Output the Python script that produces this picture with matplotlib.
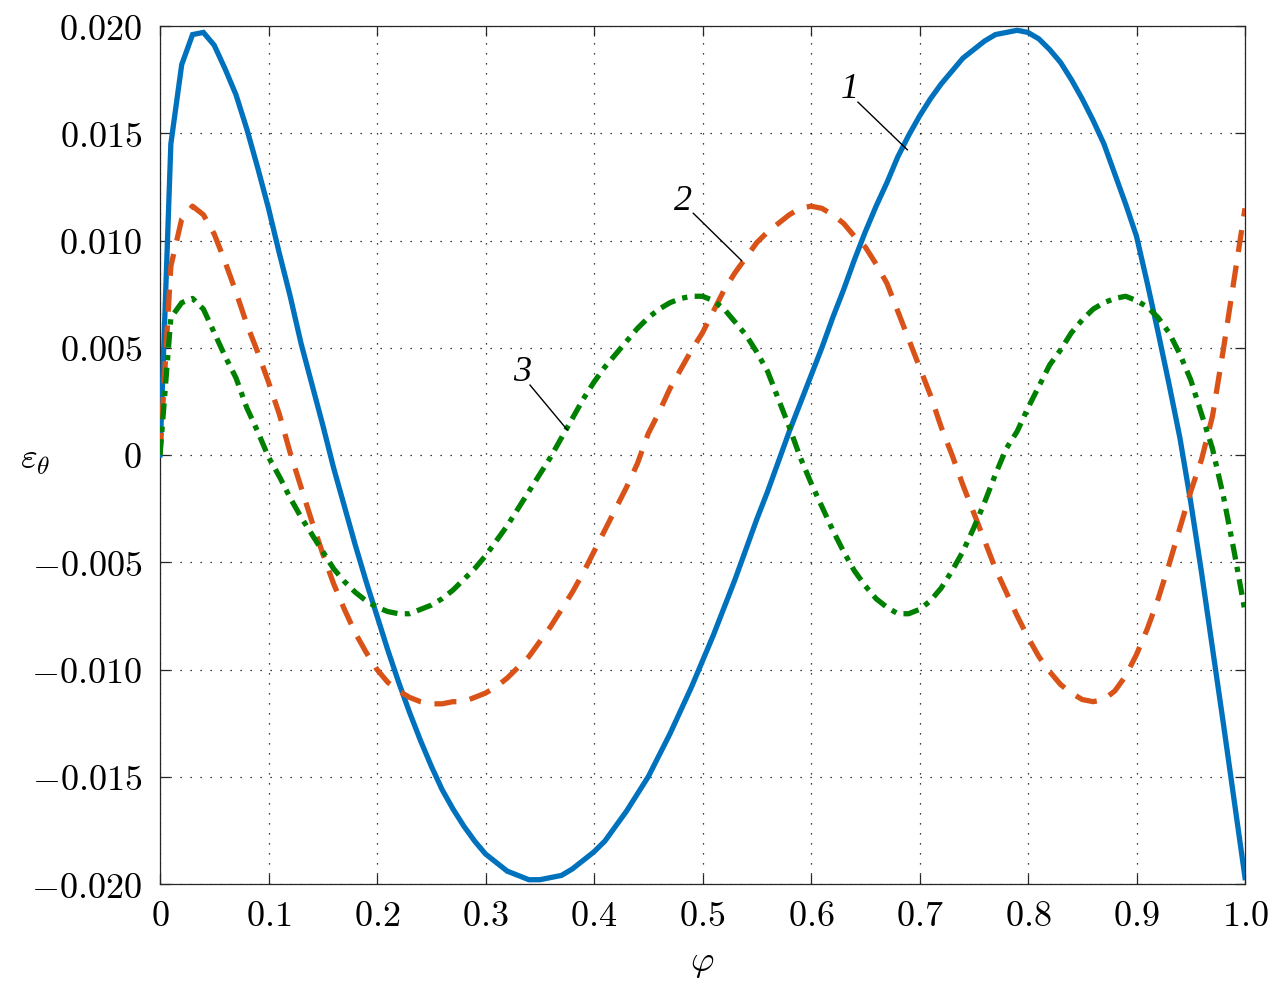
import matplotlib
matplotlib.use("Agg")
import matplotlib.pyplot as plt
import numpy as np

plt.rcParams['mathtext.fontset'] = 'cm'
plt.rcParams['font.family'] = ['DejaVu Serif']

phi = [i / 100 for i in range(101)]

curve1 = [
    0.0, 0.0145, 0.0182, 0.0196, 0.0197, 0.0191, 0.0180, 0.0168, 0.0152, 0.0134,
    0.0115, 0.0094, 0.0074, 0.0052, 0.0033, 0.0014, -0.0006, -0.0024, -0.0042, -0.0059,
    -0.0075, -0.0091, -0.0106, -0.0120, -0.0133, -0.0145, -0.0156, -0.0165, -0.0173, -0.0180,
    -0.0186, -0.0190, -0.0194, -0.0196, -0.0198, -0.0198, -0.0197, -0.0196, -0.0193, -0.0189,
    -0.0185, -0.0180, -0.0173, -0.0166, -0.0158, -0.0150, -0.0140, -0.0130, -0.0119, -0.0108,
    -0.0096, -0.0084, -0.0071, -0.0058, -0.0044, -0.0030, -0.0017, -0.0003, 0.0011, 0.0024,
    0.0037, 0.0050, 0.0064, 0.0077, 0.0091, 0.0104, 0.0116, 0.0127, 0.0139, 0.0149,
    0.0158, 0.0166, 0.0173, 0.0179, 0.0185, 0.0189, 0.0193, 0.0196, 0.0197, 0.0198,
    0.0197, 0.0194, 0.0189, 0.0183, 0.0175, 0.0166, 0.0156, 0.0145, 0.0131, 0.0117,
    0.0102, 0.0080, 0.0057, 0.0033, 0.0008, -0.0022, -0.0055, -0.0090, -0.0125, -0.0161,
    -0.0197,
]

curve2 = [
    0.0, 0.0088, 0.0110, 0.0116, 0.0112, 0.0103, 0.0090, 0.0076, 0.0061, 0.0048,
    0.0034, 0.0019, 0.0001, -0.0015, -0.0031, -0.0046, -0.0060, -0.0072, -0.0083, -0.0092,
    -0.0100, -0.0106, -0.0110, -0.0113, -0.0115, -0.0116, -0.0116, -0.0115, -0.0115, -0.0113,
    -0.0111, -0.0108, -0.0104, -0.0099, -0.0094, -0.0087, -0.0080, -0.0072, -0.0064, -0.0055,
    -0.0045, -0.0035, -0.0025, -0.0015, -0.0004, 0.0010, 0.0020, 0.0031, 0.0040, 0.0049,
    0.0057, 0.0067, 0.0077, 0.0085, 0.0092, 0.0099, 0.0104, 0.0108, 0.0112, 0.0115,
    0.0116, 0.0115, 0.0112, 0.0108, 0.0102, 0.0097, 0.0089, 0.0080, 0.0067, 0.0054,
    0.0041, 0.0028, 0.0013, 0.0000, -0.0014, -0.0027, -0.0040, -0.0053, -0.0064, -0.0075,
    -0.0085, -0.0094, -0.0101, -0.0107, -0.0111, -0.0114, -0.0115, -0.0114, -0.0110, -0.0103,
    -0.0093, -0.0081, -0.0067, -0.0051, -0.0034, -0.0017, -0.0002, 0.0018, 0.0049, 0.0082,
    0.0115,
]

curve3 = [
    0.0, 0.0064, 0.0071, 0.0073, 0.0068, 0.0057, 0.0046, 0.0036, 0.0022, 0.0011,
    -0.0001, -0.0010, -0.0020, -0.0029, -0.0037, -0.0045, -0.0053, -0.0059, -0.0064, -0.0068,
    -0.0071, -0.0073, -0.0074, -0.0074, -0.0072, -0.0070, -0.0067, -0.0063, -0.0058, -0.0053,
    -0.0047, -0.0040, -0.0033, -0.0025, -0.0017, -0.0009, -0.0001, 0.0008, 0.0017, 0.0026,
    0.0034, 0.0041, 0.0047, 0.0053, 0.0059, 0.0064, 0.0068, 0.0071, 0.0073, 0.0074,
    0.0074, 0.0072, 0.0068, 0.0062, 0.0056, 0.0048, 0.0039, 0.0026, 0.0013, -0.0001,
    -0.0013, -0.0024, -0.0035, -0.0045, -0.0054, -0.0061, -0.0067, -0.0071, -0.0074, -0.0074,
    -0.0072, -0.0068, -0.0062, -0.0054, -0.0045, -0.0034, -0.0022, -0.0009, 0.0003, 0.0011,
    0.0022, 0.0032, 0.0042, 0.0049, 0.0057, 0.0063, 0.0068, 0.0071, 0.0073, 0.0074,
    0.0072, 0.0069, 0.0064, 0.0057, 0.0047, 0.0035, 0.0019, 0.0003, -0.0019, -0.0045,
    -0.0073,
]

xticks = [0, 0.1, 0.2, 0.3, 0.4, 0.5, 0.6, 0.7, 0.8, 0.9, 1.0]
xtick_labels = ["0", "0.1", "0.2", "0.3", "0.4", "0.5", "0.6", "0.7", "0.8", "0.9", "1.0"]
yticks = [-0.020, -0.015, -0.010, -0.005, 0, 0.005, 0.010, 0.015, 0.020]
ytick_labels = ["-0.020", "-0.015", "-0.010", "-0.005", "0", "0.005", "0.010", "0.015", "0.020"]

labels = ["1", "2", "3"]
label_text_pos = [(0.636, 0.01702), (0.4823, 0.01181), (0.3333, 0.00384)]
label_line_start = [(0.6433, 0.01645), (0.4915, 0.01127), (0.341, 0.00326)]
label_line_end = [(0.6888, 0.01423), (0.5361, 0.00906), (0.3754, 0.00117)]

fig = plt.figure(figsize=(12.78, 9.94), dpi=100)
ax = fig.add_axes([160 / 1278, 1 - 884 / 994, (1245 - 160) / 1278, (884 - 26) / 994])

lw = 3.8
ax.plot(phi, curve1, color='#0072BD', lw=lw, solid_joinstyle='miter', zorder=3)
ax.plot(phi, curve2, color='#D95319', lw=lw, dashes=(4.2, 2.6), zorder=3)
ax.plot(phi, curve3, color='#008000', lw=lw, dashes=(3.0, 1.4, 1.0, 1.4), zorder=3)

ax.set_xlim(0, 1)
ax.set_ylim(-0.020, 0.020)
ax.set_xticks(xticks)
ax.set_xticklabels(['$' + t + '$' for t in xtick_labels])
ax.set_yticks(yticks)
ax.set_yticklabels(['$' + t + '$' for t in ytick_labels])

ax.grid(True, color='black', linestyle=(0, (1, 7)), linewidth=0.9)
ax.tick_params(direction='in', length=7, width=0.9, color='#262626',
               top=True, right=True, labelsize=26)
ax.tick_params(axis='x', pad=11)
ax.tick_params(axis='y', pad=13)
for s in ax.spines.values():
    s.set_color('#262626')
    s.set_linewidth(0.9)

ax.set_xlabel(r'$\varphi$', fontsize=26, labelpad=9)
fig.text(35 / 1278, 1 - 460 / 994, r'$\varepsilon_\theta$', fontsize=26, ha='center', va='center')

for lab, tp, ls, le in zip(labels, label_text_pos, label_line_start, label_line_end):
    ax.text(tp[0], tp[1], lab, fontsize=26, family='Liberation Serif', style='italic',
            ha='center', va='center', zorder=5)
    ax.plot([ls[0], le[0]], [ls[1], le[1]], color='black', lw=1.0, zorder=5)

fig.savefig('out.png', dpi=100)
